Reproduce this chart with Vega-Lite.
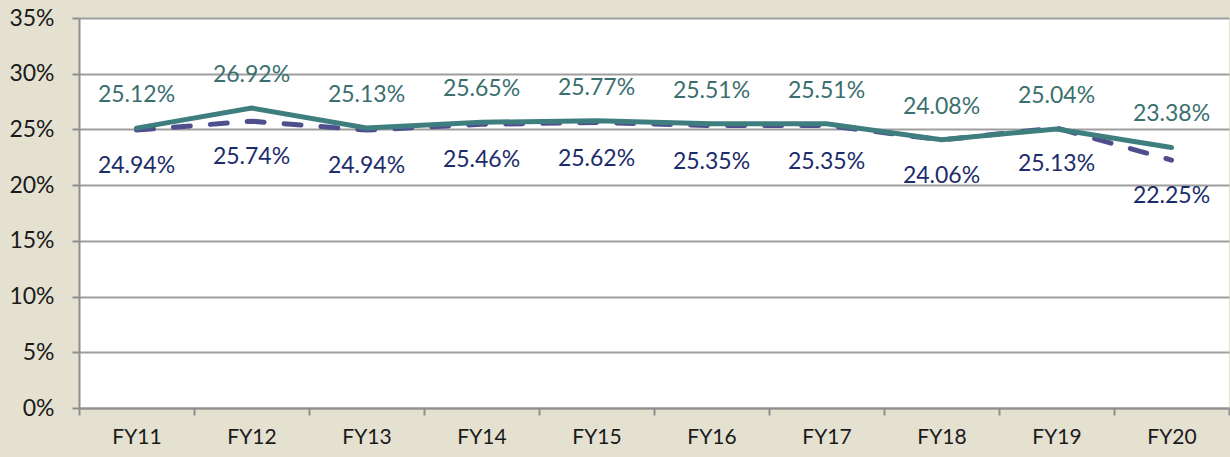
{
  "$schema": "https://vega.github.io/schema/vega-lite/v6.json",
  "width": 1150,
  "height": 390,
  "autosize": {"type": "none"},
  "padding": {"left": 79, "top": 18, "right": 1, "bottom": 49},
  "background": "#e5e1d1",
  "view": {"fill": "white", "stroke": null},
  "config": {"font": "Lato"},
  "data": {
    "values": [
      {"fy": "FY11", "series": "A", "value": 0.2512},
      {"fy": "FY12", "series": "A", "value": 0.2692},
      {"fy": "FY13", "series": "A", "value": 0.2513},
      {"fy": "FY14", "series": "A", "value": 0.2565},
      {"fy": "FY15", "series": "A", "value": 0.2577},
      {"fy": "FY16", "series": "A", "value": 0.2551},
      {"fy": "FY17", "series": "A", "value": 0.2551},
      {"fy": "FY18", "series": "A", "value": 0.2408},
      {"fy": "FY19", "series": "A", "value": 0.2504},
      {"fy": "FY20", "series": "A", "value": 0.2338},
      {"fy": "FY11", "series": "B", "value": 0.2494},
      {"fy": "FY12", "series": "B", "value": 0.2574},
      {"fy": "FY13", "series": "B", "value": 0.2494},
      {"fy": "FY14", "series": "B", "value": 0.2546},
      {"fy": "FY15", "series": "B", "value": 0.2562},
      {"fy": "FY16", "series": "B", "value": 0.2535},
      {"fy": "FY17", "series": "B", "value": 0.2535},
      {"fy": "FY18", "series": "B", "value": 0.2406},
      {"fy": "FY19", "series": "B", "value": 0.2513},
      {"fy": "FY20", "series": "B", "value": 0.2225}
    ]
  },
  "encoding": {
    "x": {
      "field": "fy",
      "type": "ordinal",
      "bandPosition": 0.5,
      "scale": {"type": "band", "paddingInner": 0, "paddingOuter": 0},
      "axis": {
        "title": null,
        "labelAngle": 0,
        "tickBand": "extent",
        "grid": false,
        "domainColor": "#8f8f8f",
        "domainWidth": 2,
        "tickColor": "#8f8f8f",
        "tickWidth": 2,
        "tickSize": 7,
        "labelFontSize": 21,
        "labelColor": "#1a1a1a",
        "labelPadding": 11
      }
    },
    "y": {
      "field": "value",
      "type": "quantitative",
      "scale": {"domain": [0, 0.35], "nice": false, "zero": true},
      "axis": {
        "title": null,
        "values": [0, 0.05, 0.1, 0.15, 0.2, 0.25, 0.3, 0.35],
        "format": ".0%",
        "gridColor": "#9e9e9e",
        "gridWidth": 2,
        "domainColor": "#8f8f8f",
        "domainWidth": 2,
        "tickColor": "#8f8f8f",
        "tickWidth": 2,
        "tickSize": 7,
        "labelFontSize": 23,
        "labelColor": "#1a1a1a",
        "labelPadding": 18
      }
    }
  },
  "layer": [
    {
      "transform": [{"filter": "datum.series === 'B'"}],
      "mark": {"type": "line", "color": "#4f4f8e", "strokeWidth": 5, "strokeDash": [17, 20], "strokeCap": "round"}
    },
    {
      "transform": [{"filter": "datum.series === 'A'"}],
      "mark": {"type": "line", "color": "#3f7e7e", "strokeWidth": 5, "strokeCap": "round"}
    },
    {
      "transform": [{"filter": "datum.series === 'A'"}],
      "mark": {"type": "text", "dy": -33, "fontSize": 23, "color": "#3b6f6f", "baseline": "middle"},
      "encoding": {"text": {"field": "value", "type": "quantitative", "format": ".2%"}}
    },
    {
      "transform": [{"filter": "datum.series === 'B'"}],
      "mark": {"type": "text", "dy": 36, "fontSize": 23, "color": "#1c2c6b", "baseline": "middle"},
      "encoding": {"text": {"field": "value", "type": "quantitative", "format": ".2%"}}
    }
  ]
}
